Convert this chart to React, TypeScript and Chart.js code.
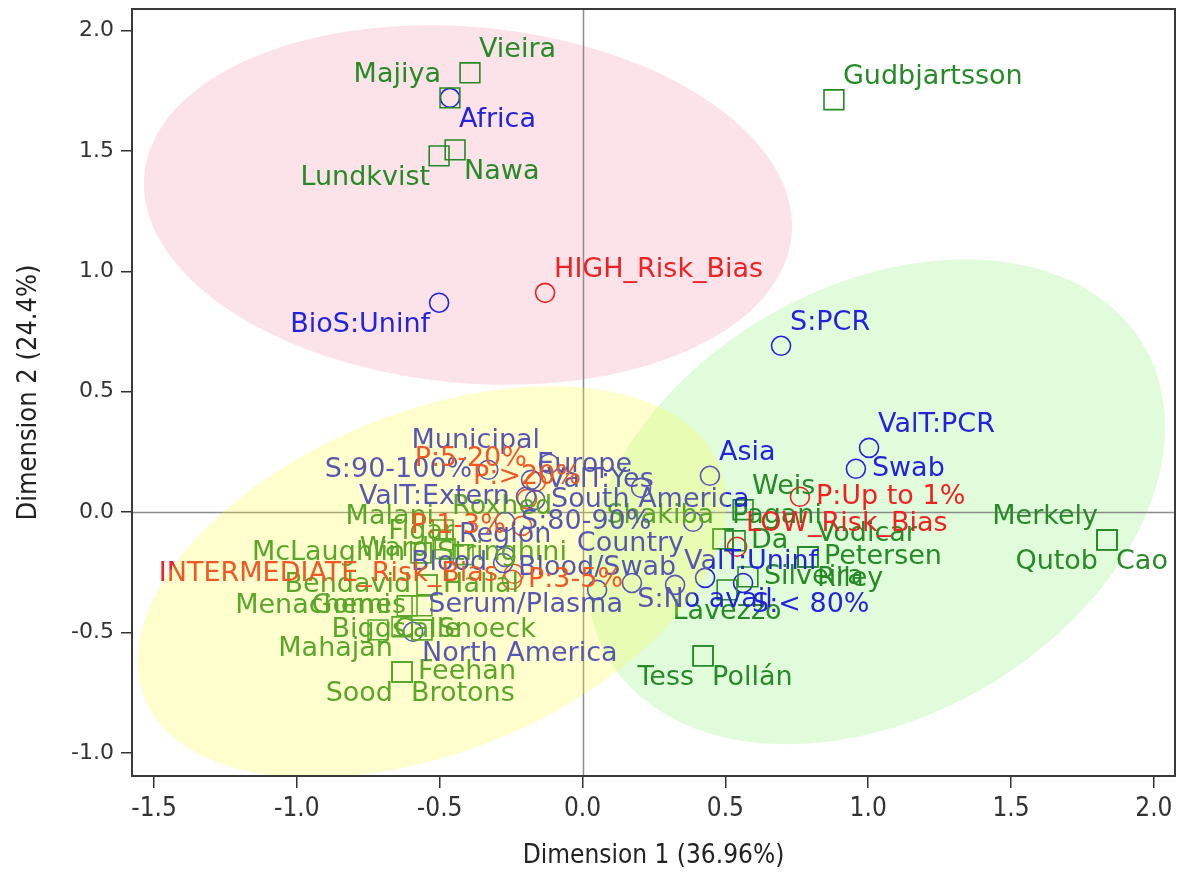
import React, { useEffect, useRef } from 'react';
import { Chart, registerables } from 'chart.js';

Chart.register(...registerables);

// ---------------- data ----------------
const studyNames = [
  'Vieira', 'Majiya', 'Nawa', 'Lundkvist', 'Gudbjartsson', 'Merkely', 'Qutob', 'Cao',
  'Tess', 'Pollán', 'Petersen', 'Vodicar', 'Riley', 'Silveira', 'Lavezzo', 'Weis',
  'Pagani', 'Shakiba', 'Da', 'Roxhed', 'Malani', 'Figar', 'Ward', 'McLaughlin',
  'Stringhini', 'Bendavid', 'Hallal', 'Gomes', 'Menachemi', 'Biggs', 'Snoeck', 'Calle',
  'Mahajan', 'Feehan', 'Sood', 'Brotons',
];
const studyX = [
  -0.394, -0.464, -0.446, -0.502, 0.880, 1.836, 1.836, 1.836,
  0.422, 0.422, 0.789, 0.789, 0.789, 0.579, 0.506, 0.562,
  0.492, 0.492, 0.534, -0.488, -0.488, -0.418, -0.481, -0.565,
  -0.565, -0.544, -0.544, -0.562, -0.614, -0.562, -0.562, -0.716,
  -0.632, -0.632, -0.632, -0.632,
];
const studyY = [
  1.825, 1.721, 1.505, 1.480, 1.713, -0.115, -0.115, -0.115,
  -0.597, -0.597, -0.186, -0.186, -0.186, -0.269, -0.323, 0.010,
  -0.111, -0.111, -0.119, -0.074, -0.115, -0.177, -0.152, -0.169,
  -0.169, -0.302, -0.302, -0.389, -0.389, -0.489, -0.489, -0.489,
  -0.476, -0.664, -0.664, -0.664,
];
const studyLabelPos = [
  'TR', 'TL', 'BR', 'BL', 'TR', 'TL', 'BL', 'BR',
  'BL', 'BR', 'R', 'TR', 'BR', 'R', 'B', 'TR',
  'TR', 'TL', 'R', 'TR', 'TL', 'TL', 'L', 'L',
  'R', 'L', 'R', 'L', 'L', 'L', 'R', 'R',
  'BL', 'R', 'BL', 'BR',
];

const categoryNames = [
  'Africa', 'BioS:Uninf', 'S:PCR', 'ValT:PCR', 'Swab', 'Asia', 'Municipal', 'Europe',
  'ValT:Yes', 'S:90-100%', 'South America', 'ValT:Extern', 'S:80-90%', 'Region', 'Country',
  'Blood', 'Serum/Plasma', 'Blood/Swab', 'North America', 'S:No avail', 'ValT:Uninf', 'S:< 80%',
];
const categoryX = [
  -0.464, -0.502, 0.695, 1.003, 0.957, 0.446, -0.117, 0.205,
  -0.180, -0.330, -0.166, -0.198, -0.271, -0.271, 0.387,
  -0.278, 0.173, 0.051, -0.593, 0.429, 0.324, 0.562,
];
const categoryY = [
  1.721, 0.870, 0.691, 0.267, 0.180, 0.151, 0.201, 0.101,
  0.134, 0.176, 0.051, 0.064, -0.040, -0.186, -0.040,
  -0.211, -0.294, -0.323, -0.497, -0.273, -0.302, -0.294,
];
const categoryLabelPos = [
  'BR', 'BL', 'TR', 'TR', 'R', 'TR', 'TL', 'TL',
  'R', 'L', 'R', 'L', 'R', 'T', 'BL',
  'L', 'BL', 'T', 'BR', 'B', 'TR', 'BR',
];

const riskNames = [
  'HIGH_Risk_Bias', 'P:Up to 1%', 'LOW_Risk_Bias', 'P:5-20%', 'P:>20%', 'P:1-3%',
  'INTERMEDIATE_Risk_Bias', 'P:3-5%',
];
const riskX = [-0.131, 0.761, 0.541, -0.163, -0.194, -0.212, -0.240, -0.247];
const riskY = [0.911, 0.064, -0.144, 0.126, 0.055, -0.057, -0.256, -0.281];
const riskLabelPos = ['TR', 'R', 'TR', 'TL', 'T', 'L', 'L', 'R'];

const xTickValues = [-1.5, -1.0, -0.5, 0.0, 0.5, 1.0, 1.5, 2.0];
const yTickValues = [-1.0, -0.5, 0.0, 0.5, 1.0, 1.5, 2.0];
const xTitle = 'Dimension 1 (36.96%)';
const yTitle = 'Dimension 2 (24.4%)';

// confidence ellipses: centre and two conjugate half-axis vectors (data units)
const ellipseNames = ['high', 'low', 'intermediate'];
const ellipseCX = [-0.401, 1.027, -0.527];
const ellipseCY = [1.276, 0.043, -0.290];
const ellipseUX = [1.133, 0.940, 1.006];
const ellipseUY = [-0.125, 0.644, 0.4824];
const ellipseVX = [-0.057, 0.376, 0.223];
const ellipseVY = [-0.736, -0.774, -0.655];

// ---------------- styles ----------------
const GREEN = '#268a26';
const BLUE = '#2323dc';
const RED = '#ee2222';
const ELLIPSE_FILL = ['rgba(250,200,212,0.5)', 'rgba(200,250,190,0.55)', 'rgba(255,255,50,0.24)'];
const LABEL_FONT = "27px 'DejaVu Sans', Verdana, sans-serif";
const NARROW = "'Liberation Sans Narrow', 'DejaVu Sans Condensed', sans-serif";

function offsetFor(code: string) {
  switch (code) {
    case 'R': return { dx: 16, dy: 0, align: 'left' as CanvasTextAlign };
    case 'L': return { dx: -16, dy: 0, align: 'right' as CanvasTextAlign };
    case 'T': return { dx: 0, dy: -22, align: 'center' as CanvasTextAlign };
    case 'B': return { dx: 0, dy: 22, align: 'center' as CanvasTextAlign };
    case 'TL': return { dx: -9, dy: -23, align: 'right' as CanvasTextAlign };
    case 'BR': return { dx: 9, dy: 22, align: 'left' as CanvasTextAlign };
    case 'BL': return { dx: -9, dy: 22, align: 'right' as CanvasTextAlign };
    default: return { dx: 9, dy: -23, align: 'left' as CanvasTextAlign };
  }
}

function traceEllipse(chart: any, i: number) {
  const xs = chart.scales.x;
  const ys = chart.scales.y;
  const ctx = chart.ctx;
  ctx.beginPath();
  const n = 160;
  for (let k = 0; k <= n; k++) {
    const t = (k / n) * Math.PI * 2;
    const vx = ellipseCX[i] + ellipseUX[i] * Math.cos(t) + ellipseVX[i] * Math.sin(t);
    const vy = ellipseCY[i] + ellipseUY[i] * Math.cos(t) + ellipseVY[i] * Math.sin(t);
    const px = xs.getPixelForValue(vx);
    const py = ys.getPixelForValue(vy);
    if (k === 0) ctx.moveTo(px, py); else ctx.lineTo(px, py);
  }
  ctx.closePath();
}

const labelSets = [
  { names: studyNames, pos: studyLabelPos, color: GREEN },
  { names: categoryNames, pos: categoryLabelPos, color: BLUE },
  { names: riskNames, pos: riskLabelPos, color: RED },
];

const biplotPlugin = {
  id: 'biplotDecor',
  beforeDatasetsDraw(chart: any) {
    const { ctx, chartArea } = chart;
    const xs = chart.scales.x;
    const ys = chart.scales.y;
    ctx.save();
    ctx.beginPath();
    ctx.rect(chartArea.left, chartArea.top, chartArea.right - chartArea.left, chartArea.bottom - chartArea.top);
    ctx.clip();
    for (const i of [0, 1]) {
      traceEllipse(chart, i);
      ctx.fillStyle = ELLIPSE_FILL[i];
      ctx.fill();
    }
    ctx.strokeStyle = '#8c8c8c';
    ctx.lineWidth = 1.5;
    const x0 = Math.round(xs.getPixelForValue(0)) + 0.5;
    const y0 = Math.round(ys.getPixelForValue(0)) + 0.5;
    ctx.beginPath();
    ctx.moveTo(x0, chartArea.top);
    ctx.lineTo(x0, chartArea.bottom);
    ctx.moveTo(chartArea.left, y0);
    ctx.lineTo(chartArea.right, y0);
    ctx.stroke();
    ctx.restore();
  },
  afterDatasetsDraw(chart: any) {
    const { ctx, chartArea } = chart;
    ctx.save();
    ctx.font = LABEL_FONT;
    ctx.textBaseline = 'middle';
    labelSets.forEach((set, di) => {
      const meta = chart.getDatasetMeta(di);
      meta.data.forEach((el: any, i: number) => {
        const o = offsetFor(set.pos[i]);
        ctx.fillStyle = set.color;
        ctx.textAlign = o.align;
        ctx.fillText(set.names[i], el.x + o.dx, el.y + o.dy);
      });
    });
    // intermediate ellipse is drawn translucent over the markers
    ctx.beginPath();
    ctx.rect(chartArea.left, chartArea.top, chartArea.right - chartArea.left, chartArea.bottom - chartArea.top);
    ctx.clip();
    traceEllipse(chart, 2);
    ctx.fillStyle = ELLIPSE_FILL[2];
    ctx.fill();
    ctx.restore();
    // frame
    ctx.save();
    ctx.strokeStyle = '#3a3a3a';
    ctx.lineWidth = 2;
    ctx.strokeRect(chartArea.left, chartArea.top, chartArea.right - chartArea.left, chartArea.bottom - chartArea.top);
    ctx.restore();
  },
};

export default function App() {
  const canvasRef = useRef<HTMLCanvasElement | null>(null);

  useEffect(() => {
    if (!canvasRef.current) return;
    const chart = new Chart(canvasRef.current, {
      type: 'scatter',
      data: {
        datasets: [
          {
            label: 'Studies',
            data: studyX.map((x, i) => ({ x, y: studyY[i] })),
            pointStyle: 'rect',
            pointRadius: 14,
            borderColor: GREEN,
            backgroundColor: 'rgba(0,0,0,0)',
            borderWidth: 1.6,
          },
          {
            label: 'Categories',
            data: categoryX.map((x, i) => ({ x, y: categoryY[i] })),
            pointStyle: 'circle',
            pointRadius: 9.5,
            borderColor: BLUE,
            backgroundColor: 'rgba(0,0,0,0)',
            borderWidth: 1.6,
          },
          {
            label: 'Risk',
            data: riskX.map((x, i) => ({ x, y: riskY[i] })),
            pointStyle: 'circle',
            pointRadius: 9.5,
            borderColor: RED,
            backgroundColor: 'rgba(0,0,0,0)',
            borderWidth: 1.6,
          },
        ],
      },
      options: {
        animation: false,
        responsive: false,
        events: [],
        layout: { autoPadding: false, padding: { top: 9, right: 7, left: 0, bottom: 0 } },
        plugins: { legend: { display: false }, tooltip: { enabled: false } },
        scales: {
          x: {
            type: 'linear',
            min: -1.577,
            max: 2.074,
            afterBuildTicks: (scale: any) => {
              scale.ticks = xTickValues.map((v) => ({ value: v }));
            },
            afterFit: (scale: any) => {
              scale.height = 96;
              scale.paddingLeft = 0;
              scale.paddingRight = 0;
            },
            grid: { drawOnChartArea: false, drawTicks: true, tickLength: 12, color: '#333', lineWidth: 1.5 },
            border: { display: false },
            ticks: {
              color: '#333',
              padding: 6,
              font: { family: NARROW, size: 26 },
              callback: (v: any) => Number(v).toFixed(1),
            },
            title: {
              display: true,
              text: xTitle,
              color: '#222',
              padding: { top: 0, bottom: 0 },
              font: { family: NARROW, size: 26 },
            },
          },
          y: {
            type: 'linear',
            min: -1.096,
            max: 2.09,
            afterBuildTicks: (scale: any) => {
              scale.ticks = yTickValues.map((v) => ({ value: v }));
            },
            afterFit: (scale: any) => {
              scale.width = 132;
              scale.paddingTop = 0;
              scale.paddingBottom = 0;
            },
            grid: { drawOnChartArea: false, drawTicks: true, tickLength: 11, color: '#333', lineWidth: 1.5 },
            border: { display: false },
            ticks: {
              color: '#333',
              padding: 7,
              font: { family: "'DejaVu Sans', Verdana, sans-serif", size: 22 },
              callback: (v: any) => Number(v).toFixed(1),
            },
            title: {
              display: true,
              text: yTitle,
              color: '#222',
              padding: { top: 13, bottom: 0 },
              font: { family: NARROW, size: 27 },
            },
          },
        },
      },
      plugins: [biplotPlugin],
    } as any);
    return () => chart.destroy();
  }, []);

  return (
    <div style={{ position: 'absolute', left: 0, top: 0, width: 1182, height: 872, background: '#fff' }}>
      <canvas ref={canvasRef} width={1182} height={872} />
    </div>
  );
}
